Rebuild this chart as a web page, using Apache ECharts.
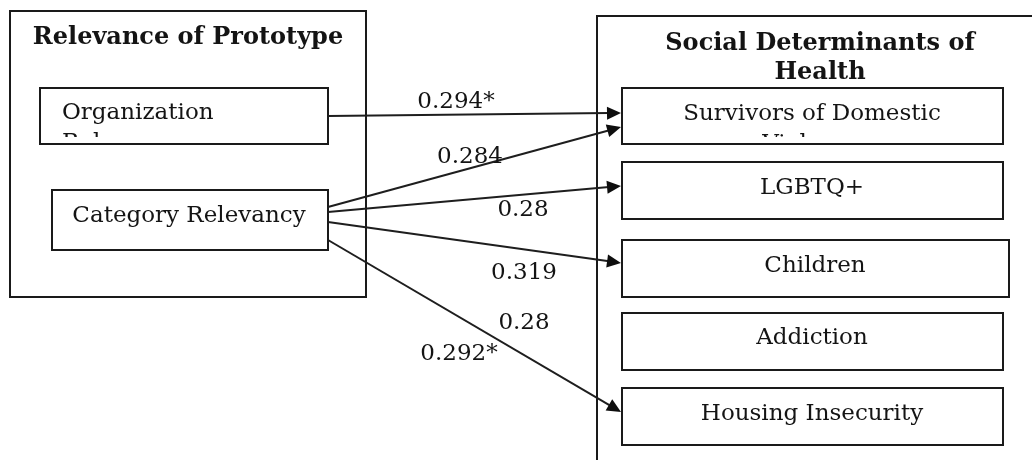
<!DOCTYPE html>
<html><head><meta charset="utf-8">
<script src="https://cdn.jsdelivr.net/npm/echarts@6/dist/echarts.min.js"></script>
<style>html,body{margin:0;padding:0;background:#fff}#c{width:1032px;height:460px}</style>
</head><body><div id="c"></div>
<script>
// ---- DATA ----
const groupTitles = ['Relevance of Prototype', 'Social Determinants of\nHealth'];
const predictors = ['Organization\nRelevancy', 'Category Relevancy'];
const outcomes = ['Survivors of Domestic\nViolence', 'LGBTQ+', 'Children', 'Addiction', 'Housing Insecurity'];
const pathFrom = [0, 1, 1, 1, 1];
const pathTo = [0, 0, 1, 2, 4];
const pathCoefs = [['0.294*'], ['0.284'], ['0.28'], ['0.319'], ['0.28', '0.292*']];

// ---- LAYOUT (pixel-space positions on hidden 0..1032 x 0..460 axes) ----
const LAYOUT = {
  frames: [
    { rect: [10, 11, 366, 297], title: [188, 38] },
    { rect: [597, 16, 1045, 480], title: [820, 58] }
  ],
  predictorBoxes: [
    { rect: [40, 88, 328, 144], align: 'left', tx: 62, ty: 98, clipY: 137 },
    { rect: [52, 190, 328, 250], align: 'center', tx: 189, ty: 201, clipY: 250 }
  ],
  outcomeBoxes: [
    { rect: [622, 88, 1003, 144], tx: 812, ty: 99, clipY: 137 },
    { rect: [622, 162, 1003, 219], tx: 812, ty: 173, clipY: 219 },
    { rect: [622, 240, 1009, 297], tx: 815, ty: 251, clipY: 297 },
    { rect: [622, 313, 1003, 370], tx: 812, ty: 323, clipY: 370 },
    { rect: [622, 388, 1003, 445], tx: 812, ty: 399, clipY: 445 }
  ],
  pathEnds: [
    [[328, 116], [621, 113]],
    [[328, 207], [621, 127]],
    [[328, 212], [621, 186]],
    [[328, 222], [621, 263]],
    [[328, 240], [621, 412]]
  ],
  coefPos: [
    [[456, 102]],
    [[470, 157]],
    [[523, 210]],
    [[524, 273]],
    [[524, 323], [459, 354]]
  ],
  coefClipY: [null, 164, null, null, null]
};

const INK = '#141414';
const FONT = '"DejaVu Serif", "Liberation Serif", serif';

function rectShape(api, r) {
  const p1 = api.coord([r[0], r[1]]);
  const p2 = api.coord([r[2], r[3]]);
  return { x: p1[0], y: p1[1], width: p2[0] - p1[0], height: p2[1] - p1[1] };
}

function boxRender(list, labels) {
  return function (params, api) {
    const b = list[params.dataIndex];
    const shape = rectShape(api, b.rect);
    const tp = api.coord([b.tx, b.ty]);
    const clipP = api.coord([0, b.clipY]);
    return {
      type: 'group',
      children: [
        { type: 'rect', shape: shape, style: { fill: '#fff', stroke: '#1a1a1a', lineWidth: 2 } },
        {
          type: 'group',
          clipPath: { type: 'rect', shape: { x: shape.x, y: shape.y, width: shape.width, height: clipP[1] - shape.y } },
          children: [{
            type: 'text', x: tp[0], y: tp[1],
            style: {
              text: labels[params.dataIndex], fill: INK, fontFamily: FONT, fontSize: 23,
              lineHeight: 30, align: b.align || 'center', verticalAlign: 'top'
            }
          }]
        }
      ]
    };
  };
}

const chart = echarts.init(document.getElementById('c'), null, { renderer: 'canvas' });
chart.setOption({
  animation: false,
  backgroundColor: '#fff',
  grid: { left: 0, right: 0, top: 0, bottom: 0 },
  xAxis: { type: 'value', min: 0, max: 1032, show: false },
  yAxis: { type: 'value', min: 0, max: 460, inverse: true, show: false },
  series: [
    {
      type: 'custom', name: 'frames', silent: true,
      data: groupTitles.map((t, i) => [i, 0]),
      renderItem: function (params, api) {
        const f = LAYOUT.frames[params.dataIndex];
        const shape = rectShape(api, f.rect);
        const tp = api.coord(f.title);
        return {
          type: 'group',
          children: [
            { type: 'rect', shape: shape, style: { fill: '#fff', stroke: '#1a1a1a', lineWidth: 2 } },
            {
              type: 'text', x: tp[0], y: tp[1],
              style: {
                text: groupTitles[params.dataIndex], fill: INK, fontFamily: FONT, fontSize: 24,
                fontWeight: 'bold', lineHeight: 29, align: 'center', verticalAlign: 'middle'
              }
            }
          ]
        };
      }
    },
    {
      type: 'custom', name: 'predictors', silent: true,
      data: predictors.map((t, i) => [i, 0]),
      renderItem: boxRender(LAYOUT.predictorBoxes, predictors)
    },
    {
      type: 'custom', name: 'outcomes', silent: true,
      data: outcomes.map((t, i) => [i, 0]),
      renderItem: boxRender(LAYOUT.outcomeBoxes, outcomes)
    },
    {
      type: 'custom', name: 'paths', silent: true,
      data: pathFrom.map((f, i) => [i, pathTo[i]]),
      renderItem: function (params, api) {
        const e = LAYOUT.pathEnds[params.dataIndex];
        const a = api.coord(e[0]);
        const b = api.coord(e[1]);
        const ang = Math.atan2(b[1] - a[1], b[0] - a[0]);
        const L = 14, W = 6.5;
        const bx = b[0] - L * Math.cos(ang), by = b[1] - L * Math.sin(ang);
        const nx = -Math.sin(ang), ny = Math.cos(ang);
        return {
          type: 'group',
          children: [
            { type: 'line', shape: { x1: a[0], y1: a[1], x2: bx + 2 * Math.cos(ang), y2: by + 2 * Math.sin(ang) }, style: { stroke: '#1e1e1e', lineWidth: 2 } },
            { type: 'polygon', shape: { points: [[b[0], b[1]], [bx + nx * W, by + ny * W], [bx - nx * W, by - ny * W]] }, style: { fill: '#0e0e0e' } }
          ]
        };
      }
    },
    {
      type: 'custom', name: 'coefficients', silent: true,
      data: pathCoefs.map((c, i) => [i, 0]),
      renderItem: function (params, api) {
        const i = params.dataIndex;
        const kids = pathCoefs[i].map(function (txt, j) {
          const p = api.coord(LAYOUT.coefPos[i][j]);
          return {
            type: 'text', x: p[0], y: p[1],
            style: { text: txt, fill: INK, fontFamily: FONT, fontSize: 23, align: 'center', verticalAlign: 'middle' }
          };
        });
        const g = { type: 'group', children: kids };
        const cy = LAYOUT.coefClipY[i];
        if (cy != null) {
          const c = api.coord([0, cy]);
          g.clipPath = { type: 'rect', shape: { x: 0, y: 0, width: 1032, height: c[1] } };
        }
        return g;
      }
    }
  ]
});
</script>
</body></html>
